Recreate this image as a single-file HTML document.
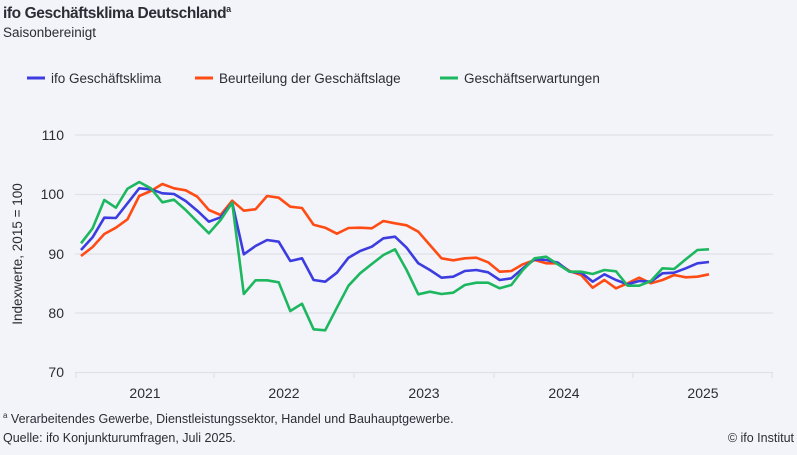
<!DOCTYPE html>
<html><head><meta charset="utf-8"><style>
body{margin:0;background:#f3f4f9;width:797px;height:450px;overflow:hidden;font-family:"Liberation Sans",sans-serif;color:#2b2d35}
</style></head><body>
<svg id="s" width="797" height="450" xmlns="http://www.w3.org/2000/svg" font-family="Liberation Sans, sans-serif">
<rect width="797" height="450" fill="#f3f4f9"/>
<text x="3" y="18" font-size="15.5" font-weight="bold" fill="#2b2d35" letter-spacing="-0.4">ifo Geschäftsklima Deutschland<tspan font-size="9" dy="-6">a</tspan></text>
<text x="3" y="37" font-size="13.5" fill="#2b2d35">Saisonbereinigt</text>
<line x1="27" y1="78" x2="45" y2="78" stroke="#3c3ce0" stroke-width="3"/>
<text x="51" y="83" font-size="13.5" fill="#2b2d35">ifo Geschäftsklima</text>
<line x1="195" y1="78" x2="213" y2="78" stroke="#ff4b14" stroke-width="3"/>
<text x="219" y="83" font-size="13.5" fill="#2b2d35">Beurteilung der Geschäftslage</text>
<line x1="440" y1="78" x2="458" y2="78" stroke="#1db760" stroke-width="3"/>
<text x="464" y="83" font-size="13.5" fill="#2b2d35">Geschäftserwartungen</text>
<g stroke="#dfe1e8" stroke-width="1.2">
<line x1="75" y1="135" x2="773" y2="135"/><line x1="75" y1="194.5" x2="773" y2="194.5"/>
<line x1="75" y1="254" x2="773" y2="254"/><line x1="75" y1="313" x2="773" y2="313"/>
<line x1="75" y1="372.5" x2="773" y2="372.5"/>
<line x1="76" y1="372" x2="76" y2="378"/><line x1="214" y1="372" x2="214" y2="378"/><line x1="354" y1="372" x2="354" y2="378"/><line x1="494" y1="372" x2="494" y2="378"/><line x1="633" y1="372" x2="633" y2="378"/><line x1="772" y1="372" x2="772" y2="378"/>
</g>
<g font-size="14" fill="#2b2d35" text-anchor="end">
<text x="64" y="140">110</text><text x="64" y="199">100</text><text x="64" y="259">90</text><text x="64" y="318">80</text><text x="64" y="377">70</text>
</g>
<text transform="translate(22,254) rotate(-90)" font-size="13.5" text-anchor="middle" fill="#2b2d35">Indexwerte, 2015 = 100</text>
<g font-size="14" fill="#2b2d35" text-anchor="middle">
<text x="145" y="398">2021</text><text x="284" y="398">2022</text><text x="424" y="398">2023</text><text x="564" y="398">2024</text><text x="703" y="398">2025</text>
</g>
<text x="3" y="423" font-size="12.5" fill="#2b2d35"><tspan font-size="8" dy="-5">a</tspan><tspan dy="5"> Verarbeitendes Gewerbe, Dienstleistungssektor, Handel und Bauhauptgewerbe.</tspan></text>
<text x="3" y="442" font-size="12.5" fill="#2b2d35">Quelle: ifo Konjunkturumfragen, Juli 2025.</text>
<text x="794" y="442" font-size="12.5" fill="#2b2d35" text-anchor="end">© ifo Institut</text>
<polyline id="o" fill="none" stroke="#ff4b14" stroke-width="2.6" stroke-linejoin="round"/>
<polyline id="b" fill="none" stroke="#3c3ce0" stroke-width="2.6" stroke-linejoin="round"/>
<polyline id="g" fill="none" stroke="#1db760" stroke-width="2.6" stroke-linejoin="round"/>
</svg>
<script>
var G=[243.3,228.3,200,207.7,188.7,182,188.3,202.3,199.7,210,221.7,233.3,220,202.7,294,280.3,280.3,282.3,311,303.7,329.3,330.3,307.7,285.7,273.3,264,255,249.3,270,294.3,291.7,294,292.7,285,282.7,282.7,288.3,285,270,258.3,256.7,264.3,271.7,271.7,274,270,271.3,285.7,285.7,281,268.3,269,259.3,250,249.3];
var B=[250,237.3,217.7,218,203.3,188.3,189.3,193.3,194,201,210.7,221.7,217.3,202.7,254.3,246,240,241.7,261,258.3,280,281.7,272.7,257.7,251,246.7,238.3,236.7,247.7,263.3,270,277.7,276.7,271,270,272.3,280,278.3,268.3,259.3,260,262.7,271.7,272.7,281.7,274.3,280,284.3,281,281.7,273.3,272.7,268.3,263.3,262];
var O=[256,247,234,227.7,219.3,196,191,184,188.3,190.3,196.7,210,215,200.7,210.7,209.3,196,197.7,206.7,208,224.7,227.7,233.7,228,227.7,228.3,221,223.3,225.3,231.7,245,258.3,260.3,258.3,257.7,262.3,271.7,271,264.3,260,263.3,263.3,271,275,287.7,280,288.3,283.3,277.7,283.3,280,275,277.3,276.7,274.3];
function p(a){return a.map(function(y,i){return (81+i*11.63).toFixed(1)+","+y}).join(" ")}
document.getElementById("o").setAttribute("points",p(O));
document.getElementById("b").setAttribute("points",p(B));
document.getElementById("g").setAttribute("points",p(G));
</script>
</body></html>
